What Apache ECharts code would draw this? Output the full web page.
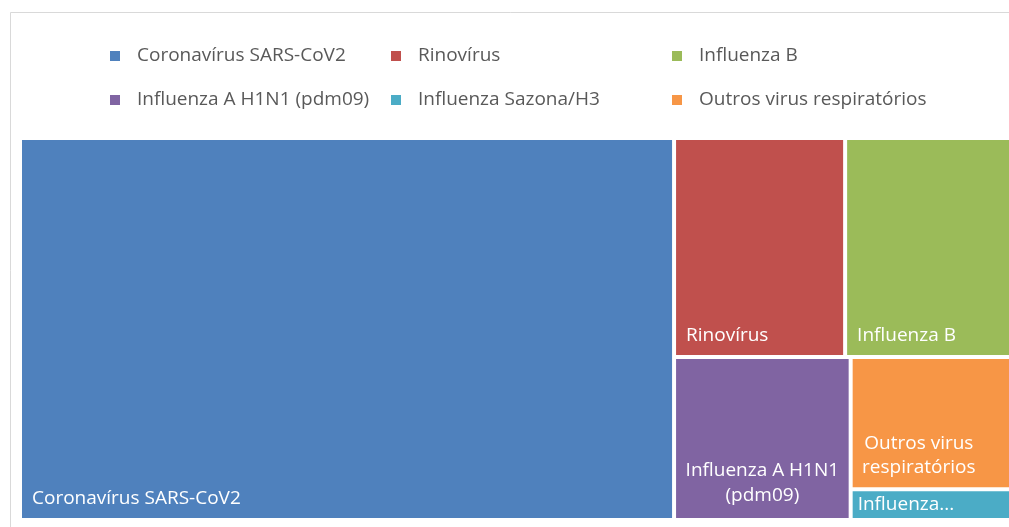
<!DOCTYPE html>
<html>
<head>
<meta charset="utf-8">
<script src="https://cdn.jsdelivr.net/npm/echarts@6/dist/echarts.min.js"></script>
<style>
  html, body { margin: 0; padding: 0; background: #fff; }
  #chart { width: 1009px; height: 527px; }
</style>
</head>
<body>
<div id="chart"></div>
<script>
// categories and values (relative sizes)
const categories = [
  'Coronavírus SARS-CoV2',
  'Rinovírus',
  'Influenza B',
  'Influenza A H1N1 (pdm09)',
  'Influenza Sazona/H3',
  'Outros virus respiratórios'
];
const values = [660, 99, 96, 76, 13, 56];
const colors = ['#4F81BD', '#C0504D', '#9BBB59', '#8064A2', '#4BACC6', '#F79646'];

// legend columns, as in the picture (3 columns x 2 rows)
const legendColumns = [
  [categories[0], categories[3]],
  [categories[1], categories[4]],
  [categories[2], categories[5]]
];
const legendLefts = [105, 386, 667];

const font = 'Open Sans';

const labelFor = (name) => {
  if (name === 'Influenza A H1N1 (pdm09)') {
    return { position: 'insideBottom', align: 'center', distance: 5, lineHeight: 25, formatter: 'Influenza A H1N1\n(pdm09)' };
  }
  if (name === 'Outros virus respiratórios') {
    return { position: 'insideBottom', align: 'center', distance: 3, lineHeight: 24, offset: [-12, 0], formatter: 'Outros virus\nrespiratórios' };
  }
  if (name === 'Influenza Sazona/H3') {
    return { position: 'insideLeft', distance: 5, padding: 0, lineHeight: 18, width: 118, overflow: 'truncate', formatter: 'Influenza...' };
  }
  return { position: 'insideBottomLeft', distance: 5 };
};

const treeData = categories.map((name, i) => ({
  name: name,
  value: values[i],
  itemStyle: { color: colors[i] },
  label: labelFor(name)
}));

const chart = echarts.init(document.getElementById('chart'), null, { renderer: 'canvas' });

chart.setOption({
  backgroundColor: '#fff',
  animation: false,
  graphic: [{
    type: 'rect',
    left: 8,
    top: 10,
    shape: { x: 0.5, y: 0.5, width: 1040, height: 560 },
    style: { fill: 'none', stroke: '#d9d9d9', lineWidth: 1 },
    silent: true
  }],
  legend: legendColumns.map((col, i) => ({
    data: col,
    orient: 'vertical',
    left: legendLefts[i],
    top: 41,
    itemWidth: 10,
    itemHeight: 10,
    itemGap: 24,
    icon: 'rect',
    selectedMode: false,
    textStyle: { fontFamily: font, fontSize: 19, color: '#595959', lineHeight: 20, padding: [0, 0, 0, 12] }
  })),
  series: [
    {
      // only feeds the legend swatches
      type: 'pie',
      radius: [0, 0],
      center: [-100, -100],
      silent: true,
      label: { show: false },
      labelLine: { show: false },
      data: categories.map((name, i) => ({ name: name, value: values[i], itemStyle: { color: colors[i] } }))
    },
    {
      type: 'treemap',
      left: 22,
      top: 140,
      width: 987,
      height: 378,
      roam: false,
      nodeClick: false,
      breadcrumb: { show: false },
      levels: [{ itemStyle: { borderWidth: 0, gapWidth: 4, borderColor: '#fff' } }],
      itemStyle: { borderWidth: 0 },
      label: {
        show: true,
        color: '#fff',
        fontFamily: font,
        fontSize: 19,
        ellipsis: '...'
      },
      data: treeData
    }
  ]
});
</script>
</body>
</html>
